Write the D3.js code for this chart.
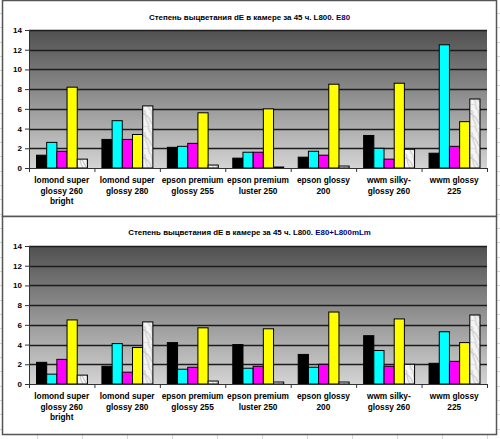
<!DOCTYPE html>
<html>
<head>
<meta charset="utf-8">
<script src="https://cdn.jsdelivr.net/npm/d3@7"></script>
<style>
  body { margin: 0; background: #fff; }
  svg { display: block; font-family: "Liberation Sans", Arial, sans-serif; }
</style>
</head>
<body>
<script>
// Categories (paper types), label lines
const categories = [
  ["lomond super", "glossy 260", "bright"],
  ["lomond super", "glossy 280"],
  ["epson premium", "glossy 255"],
  ["epson premium", "luster 250"],
  ["epson glossy", "200"],
  ["wwm silky-", "glossy 260"],
  ["wwm glossy", "225"]
];
const seriesKeys = ["black", "cyan", "magenta", "yellow", "grey"];
const yTicks = [0, 2, 4, 6, 8, 10, 12, 14];

// Chart 1: E80
const e80Black   = [1.3, 2.9, 2.1, 1.0, 1.1, 3.3, 1.5];
const e80Cyan    = [2.6, 4.8, 2.2, 1.6, 1.7, 2.0, 12.5];
const e80Magenta = [1.7, 2.9, 2.5, 1.6, 1.3, 0.9, 2.2];
const e80Yellow  = [8.2, 3.4, 5.6, 6.0, 8.5, 8.6, 4.7];
const e80Grey    = [0.9, 6.3, 0.3, 0.1, 0.2, 1.9, 7.0];

// Chart 2: E80+L800mLm
const mlmBlack   = [2.2, 1.8, 4.2, 4.0, 3.0, 4.9, 2.1];
const mlmCyan    = [1.0, 4.1, 1.5, 1.6, 1.7, 3.4, 5.3];
const mlmMagenta = [2.5, 1.2, 1.7, 1.8, 2.0, 1.8, 2.3];
const mlmYellow  = [6.5, 3.7, 5.7, 5.6, 7.3, 6.6, 4.2];
const mlmGrey    = [0.9, 6.3, 0.3, 0.2, 0.2, 2.0, 7.0];

const titleMain = "Степень выцветания dE в камере за 45 ч. L800. ";
const titles = ["E80", "E80+L800mLm"];

const width = 500, height = 439;
const svg = d3.select("body").append("svg")
    .attr("width", width)
    .attr("height", height);

const defs = svg.append("defs");

// plot area gradient
const grad = defs.append("linearGradient")
    .attr("id", "plotGrad")
    .attr("x1", 0).attr("y1", 0).attr("x2", 0).attr("y2", 1);
grad.append("stop").attr("offset", "0%").attr("stop-color", "#505050");
grad.append("stop").attr("offset", "100%").attr("stop-color", "#d4d4d4");

// marble-like fill for the last series
const marble = defs.append("pattern")
    .attr("id", "marble")
    .attr("patternUnits", "userSpaceOnUse")
    .attr("width", 12).attr("height", 22);
marble.append("rect").attr("width", 12).attr("height", 22).attr("fill", "#f4f4f4");
marble.append("path")
    .attr("d", "M0,3 C3,6 5,4 7,9 S10,14 12,15 M2,0 C4,4 2,8 5,12 S4,19 8,22 M9,0 C8,3 11,6 10,10")
    .attr("fill", "none").attr("stroke", "#c8c8c8").attr("stroke-width", 1.1);
marble.append("path")
    .attr("d", "M0,17 C2,15 4,18 6,16 M8,18 C10,19 11,21 12,20")
    .attr("fill", "none").attr("stroke", "#d8d8d8").attr("stroke-width", 0.9);

const fills = {
  black: "#000000",
  cyan: "#00ffff",
  magenta: "#ff00ff",
  yellow: "#ffff00",
  grey: "url(#marble)"
};

// faint spreadsheet grid behind the charts
const sheet = svg.append("g").attr("stroke", "#d6d6d6").attr("stroke-width", 1);
d3.range(37, width, 45).forEach(x => {
  sheet.append("line").attr("x1", x + 0.5).attr("x2", x + 0.5).attr("y1", 0).attr("y2", height);
});
d3.range(13, height, 14.33).forEach(y => {
  sheet.append("line").attr("x1", 0).attr("x2", width).attr("y1", Math.round(y) + 0.5).attr("y2", Math.round(y) + 0.5);
});

function drawChart(top, boxH, subtitle, series) {
  const g = svg.append("g").attr("transform", `translate(0,${top})`);

  g.append("rect")
      .attr("x", 2.5).attr("y", 0.5)
      .attr("width", 494).attr("height", boxH)
      .attr("fill", "#fff")
      .attr("stroke", "#555")
      .attr("stroke-width", 1.5);

  const plot = { left: 29, right: 487, top: 30, bottom: 168 };

  const x0 = d3.scaleBand()
      .domain(d3.range(categories.length))
      .range([plot.left, plot.right]);
  const x1 = d3.scaleBand()
      .domain(seriesKeys)
      .range([7, x0.bandwidth() - 7.5]);
  const y = d3.scaleLinear()
      .domain([0, 14])
      .range([plot.bottom, plot.top]);

  // title
  const t = g.append("text")
      .attr("x", 249.5).attr("y", top === 0 ? 20 : 19)
      .attr("text-anchor", "middle")
      .style("font-size", "7.9px")
      .style("font-weight", "bold");
  t.append("tspan").attr("fill", "#000").text(titleMain);
  t.append("tspan").attr("fill", "#000080").text(subtitle);

  // plot background
  g.append("rect")
      .attr("x", plot.left).attr("y", plot.top)
      .attr("width", plot.right - plot.left)
      .attr("height", plot.bottom - plot.top)
      .attr("fill", "url(#plotGrad)");

  // gridlines
  g.append("g").selectAll("line")
      .data(yTicks.filter(d => d > 0))
      .join("line")
      .attr("x1", plot.left).attr("x2", plot.right)
      .attr("y1", d => Math.round(y(d)) + 0.5)
      .attr("y2", d => Math.round(y(d)) + 0.5)
      .attr("stroke", "#1c1c1c")
      .attr("stroke-width", 1.3);

  // bars
  const groups = g.append("g").selectAll("g")
      .data(categories.map((c, i) => i))
      .join("g")
      .attr("transform", i => `translate(${x0(i)},0)`);

  groups.selectAll("rect")
      .data(i => seriesKeys.map((k, s) => ({ key: k, value: series[s][i] })))
      .join("rect")
      .attr("x", d => x1(d.key) + 0.5)
      .attr("y", d => y(d.value))
      .attr("width", x1.bandwidth())
      .attr("height", d => y(0) - y(d.value))
      .attr("fill", d => fills[d.key])
      .attr("stroke", "#000")
      .attr("stroke-width", 1);

  // y axis
  const yAxis = g.append("g")
      .attr("transform", `translate(${plot.left},0)`)
      .call(d3.axisLeft(y).tickValues(yTicks).tickSize(4).tickPadding(3));
  yAxis.select(".domain").attr("stroke", "#333");
  yAxis.selectAll(".tick line").attr("stroke", "#333");
  yAxis.selectAll("text")
      .style("font-size", "8px")
      .style("font-weight", "bold")
      .style("font-family", "Liberation Sans, Arial, sans-serif")
      .attr("fill", "#000");

  // x axis line with ticks at category boundaries
  const xa = g.append("g");
  xa.append("line")
      .attr("x1", plot.left).attr("x2", plot.right)
      .attr("y1", y(0) + 0.5).attr("y2", y(0) + 0.5)
      .attr("stroke", "#333");
  xa.selectAll(".xt")
      .data(d3.range(categories.length + 1))
      .join("line")
      .attr("class", "xt")
      .attr("x1", i => (i < categories.length ? x0(i) : plot.right) + 0.5)
      .attr("x2", i => (i < categories.length ? x0(i) : plot.right) + 0.5)
      .attr("y1", y(0)).attr("y2", y(0) + 4)
      .attr("stroke", "#333");

  // category labels
  const labels = g.append("g").selectAll("text")
      .data(categories)
      .join("text")
      .attr("x", (d, i) => x0(i) + x0.bandwidth() / 2)
      .attr("y", y(0) + 15)
      .attr("text-anchor", "middle")
      .style("font-size", "8.3px")
      .style("font-weight", "bold")
      .attr("fill", "#000");
  labels.selectAll("tspan")
      .data(d => d)
      .join("tspan")
      .attr("x", function () { return d3.select(this.parentNode).attr("x"); })
      .attr("dy", (d, j) => j === 0 ? 0 : 10.5)
      .text(d => d);
}

drawChart(0, 216, titles[0], [e80Black, e80Cyan, e80Magenta, e80Yellow, e80Grey]);
drawChart(216, 218, titles[1], [mlmBlack, mlmCyan, mlmMagenta, mlmYellow, mlmGrey]);
</script>
</body>
</html>
